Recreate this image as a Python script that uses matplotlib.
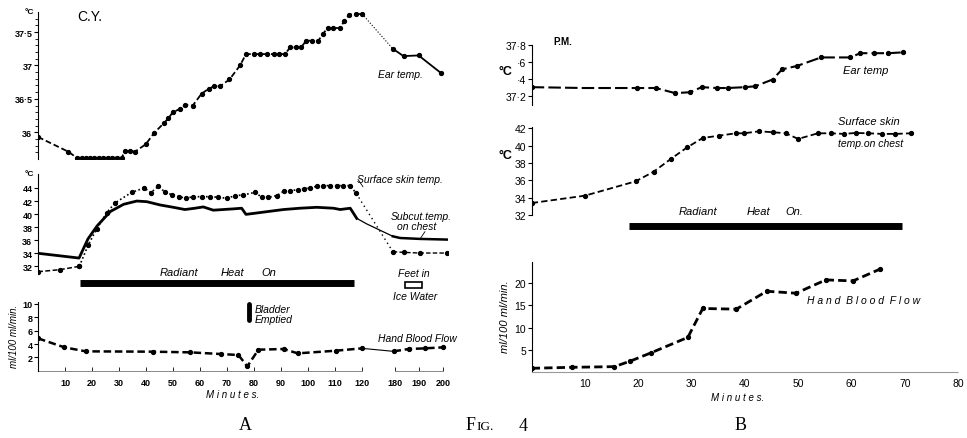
import numpy as np
import matplotlib
matplotlib.use("Agg")
import matplotlib.pyplot as plt
from matplotlib.patches import Rectangle

plt.rcParams['font.family'] = ['Liberation Sans', 'DejaVu Sans']

#---- panel A (C.Y.), minutes
a_ear_t = [0, 11.2, 14.3, 16.2, 17.8, 19.3, 20.9, 22.5, 24.2, 25.8, 27.4, 29.1, 31.0,
           32.2, 34.1, 35.9, 39.9, 43.0, 46.7, 48.3, 49.9, 52.6, 54.6, 57.3, 60.6,
           63.2, 65.2, 67.4, 70.9, 74.8, 77.0, 79.8, 82.2, 84.7, 87.2, 89.4, 91.5,
           93.3, 95.6, 97.4, 99.3, 101.4, 103.8, 105.4, 107.3, 109.4, 111.9, 113.4,
           115.3, 117.8, 120, 176.8, 183.7, 189.9, 199.0]
a_ear_v = [35.93, 35.71, 35.62, 35.62, 35.62, 35.62, 35.62, 35.62, 35.62, 35.62, 35.62,
           35.62, 35.62, 35.72, 35.72, 35.71, 35.82, 35.99, 36.14, 36.21, 36.30, 36.35,
           36.41, 36.40, 36.58, 36.65, 36.69, 36.69, 36.79, 37.0, 37.17, 37.17, 37.17,
           37.17, 37.17, 37.17, 37.17, 37.27, 37.27, 37.27, 37.37, 37.37, 37.37, 37.47,
           37.56, 37.56, 37.56, 37.67, 37.76, 37.77, 37.77, 37.25, 37.14, 37.15, 36.89]

a_skin_t = [0, 8.1, 15.3, 18.6, 21.7, 25.4, 28.5, 34.7, 39.3, 41.8, 44.6, 47.1, 49.5,
            52.3, 54.8, 57.5, 60.6, 63.7, 66.8, 69.9, 73.0, 76.0, 80.4, 82.8, 85.3,
            88.4, 90.9, 93.3, 96.4, 98.3, 100.7, 103.2, 105.7, 108.1, 110.6, 113.1,
            115.6, 117.8, 176.8, 183.7, 190.3, 201.5]
a_skin_v = [31.18, 31.49, 32.0, 35.27, 37.7, 40.2, 41.7, 43.34, 44.0, 43.3, 44.26, 43.34,
            42.98, 42.67, 42.42, 42.67, 42.67, 42.67, 42.57, 42.42, 42.83, 42.93, 43.34,
            42.57, 42.57, 42.83, 43.49, 43.6, 43.74, 43.85, 44.0, 44.26, 44.36, 44.36,
            44.36, 44.36, 44.36, 43.18, 34.25, 34.14, 34.04, 34.04]

a_sub_t = [0, 15.2, 18.5, 21.9, 26.8, 31.7, 36.6, 40.3, 45.2, 50.1, 54.4, 58.1, 61.2,
           64.9, 68.6, 72.3, 75.4, 77.0, 79.7, 84.7, 90.9, 97.0, 103.2, 109.4, 111.9,
           115.6, 118.0, 128.5, 176.8, 182.3, 190.5, 201.5]
a_sub_v = [34.0, 33.27, 36.2, 38.2, 40.4, 41.5, 42.0, 41.9, 41.4, 41.04, 40.7, 40.9, 41.1,
           40.6, 40.7, 40.8, 40.9, 39.96, 40.1, 40.37, 40.7, 40.9, 41.04, 40.9, 40.7,
           40.9, 39.35, 38.5, 36.6, 36.34, 36.2, 36.1]

a_flow_t = [0, 9.75, 17.7, 42.5, 56.3, 67.7, 74.2, 77.5, 81.6, 90.9, 96.2, 110.4, 119.9,
            178.2, 185.8, 192.6, 199.9]
a_flow_v = [4.85, 3.5, 2.9, 2.85, 2.75, 2.5, 2.35, 0.65, 3.15, 3.25, 2.6, 3.0, 3.35,
            2.9, 3.25, 3.35, 3.5]

a_heat = [15.6, 117]
a_bladder_t = 78
a_xticks = [10, 20, 30, 40, 50, 60, 70, 80, 90, 100, 110, 120, 180, 190, 200]

#---- panel B (P.M.)
b_ear_t = [0, 9.8, 19.7, 23.3, 26.9, 29.7, 31.9, 34.7, 36.8, 40.0, 41.9, 45.2, 47.0,
           49.8, 54.3, 59.7, 61.7, 64.2, 66.9, 69.7]
b_ear_v = [37.30, 37.29, 37.29, 37.29, 37.23, 37.24, 37.30, 37.29, 37.29, 37.30, 37.31,
           37.39, 37.51, 37.55, 37.65, 37.65, 37.70, 37.70, 37.70, 37.71]

b_skin_t = [0, 10.0, 19.5, 22.9, 26.1, 29.2, 32.1, 35.2, 38.3, 39.8, 42.7, 45.3, 47.7,
            50.0, 53.7, 56.1, 58.6, 60.8, 63.2, 65.7, 68.2, 71.1]
b_skin_v = [33.38, 34.23, 35.88, 37.0, 38.46, 39.81, 40.88, 41.15, 41.42, 41.42, 41.65,
            41.54, 41.42, 40.77, 41.42, 41.42, 41.35, 41.46, 41.42, 41.35, 41.35, 41.42]

b_flow_t = [0, 7.5, 15.5, 18.4, 22.3, 29.3, 32.1, 38.4, 44.1, 49.6, 55.2, 60.3, 65.3]
b_flow_v = [0.9, 1.12, 1.27, 2.46, 4.33, 7.84, 14.33, 14.18, 18.2, 17.76, 20.75, 20.52, 23.13]

b_heat = [18.3, 69.5]

#---------------------------------------------------------

W, H = 967, 439

def box(x0, y0, x1, y1):
    # pixel box (top-left origin) -> figure fraction
    return [x0 / W, 1 - y1 / H, (x1 - x0) / W, (y1 - y0) / H]

def ftext(x, y, s, **kw):
    kw.setdefault('ha', 'left')
    kw.setdefault('va', 'center')
    fig.text(x / W, 1 - y / H, s, **kw)

# broken time axis of panel A: 120..180 squeezed
def fwd(t):
    t = np.asarray(t, float)
    return np.where(t <= 120, t, np.where(t <= 180, 120 + (t - 120) * 0.2, 132 + (t - 180) * 0.9))

def inv(x):
    x = np.asarray(x, float)
    return np.where(x <= 120, x, np.where(x <= 132, 120 + (x - 120) / 0.2, 180 + (x - 132) / 0.9))

def clean(ax, bottom=False):
    for s in ['top', 'right']:
        ax.spines[s].set_visible(False)
    if not bottom:
        ax.spines['bottom'].set_visible(False)
        ax.set_xticks([])
    ax.patch.set_alpha(0)
    ax.spines['left'].set_linewidth(0.8)
    ax.tick_params(axis='y', length=3, width=0.8, pad=1)

fig = plt.figure(figsize=(9.67, 4.39), dpi=100)

tick_a = dict(fontsize=6.5, fontweight='bold')
lab = dict(fontsize=7.5, style='italic')
dash = (0, (3.2, 1.6))
mk = dict(marker='o', ms=2.8, color='black')

#---- A top: ear temp
ax1 = fig.add_axes(box(38, 13, 448, 160))
ax1.set_xscale('function', functions=(fwd, inv))
ax1.set_xlim(0, 202)
ax1.set_ylim(35.6, 37.8)
n = a_ear_t.index(120)
ax1.plot(a_ear_t[:n + 1], a_ear_v[:n + 1], ls=dash, lw=1.3, **mk)
ax1.plot(a_ear_t[n:n + 2], a_ear_v[n:n + 2], ls=':', lw=0.8, color='black')
ax1.plot(a_ear_t[n + 1:], a_ear_v[n + 1:], ls='-', lw=1.3, **mk)
clean(ax1)
ax1.set_yticks([36, 36.5, 37, 37.5])
ax1.set_yticklabels(['36', '36·5', '37', '37·5'], **tick_a)
ax1.set_yticks(np.arange(35.7, 37.8, 0.1), minor=True)
ax1.tick_params(axis='y', which='minor', length=2, width=0.6)

#---- A middle: skin temps
ax2 = fig.add_axes(box(38, 175, 448, 300))
ax2.set_xscale('function', functions=(fwd, inv))
ax2.set_xlim(0, 202)
ax2.set_ylim(27.0, 46.14)
ax2.spines['left'].set_bounds(31.3, 46.14)
k = a_skin_t.index(117.8)
ax2.plot(a_skin_t[:3], a_skin_v[:3], ls=dash, lw=1.1, **mk)
ax2.plot(a_skin_t[2:k + 1], a_skin_v[2:k + 1], ls=(0, (1, 1.5)), lw=1.2, **mk)
ax2.plot(a_skin_t[k:k + 2], a_skin_v[k:k + 2], ls=(0, (1, 2.5)), lw=1.0, color='black')
ax2.plot(a_skin_t[k + 1:], a_skin_v[k + 1:], ls=dash, lw=1.0, **mk)
j = a_sub_t.index(118.0)
ax2.plot(a_sub_t[:j + 1], a_sub_v[:j + 1], '-', lw=2.0, color='black', solid_joinstyle='round')
ax2.plot(a_sub_t[j:j + 3], a_sub_v[j:j + 3], '-', lw=0.9, color='black')
ax2.plot(a_sub_t[j + 2:], a_sub_v[j + 2:], '-', lw=1.8, color='black')
ax2.plot(a_heat, [29.45, 29.45], '-', lw=5, color='black', solid_capstyle='butt')
ax2.add_patch(Rectangle((184.4, 28.7), 191.5 - 184.4, 0.9, fill=False, lw=1.2, ec='black'))
clean(ax2)
ax2.set_yticks([32, 34, 36, 38, 40, 42, 44])
ax2.set_yticklabels(['32', '34', '36', '38', '40', '42', '44'], **tick_a)
ax2.plot([118.5, 121.5], [45.3, 44.2], '-', lw=0.6, color='black')
ax2.plot([190.5, 192.5], [36.2, 37.3], '-', lw=0.6, color='black')

#---- A bottom: hand blood flow
ax3 = fig.add_axes(box(38, 303.3, 448, 371.7))
ax3.set_xscale('function', functions=(fwd, inv))
ax3.set_xlim(0, 202)
ax3.set_ylim(0, 10.25)
m = a_flow_t.index(119.9)
ax3.plot(a_flow_t[:m + 1], a_flow_v[:m + 1], ls=(0, (3, 1.5)), lw=1.8, **mk)
ax3.plot(a_flow_t[m:m + 2], a_flow_v[m:m + 2], '-', lw=0.8, color='black')
ax3.plot(a_flow_t[m + 1:], a_flow_v[m + 1:], ls=(0, (3, 1.5)), lw=1.8, **mk)
ax3.plot([a_bladder_t, a_bladder_t], [7.6, 10.0], '-', lw=3.5, color='black', solid_capstyle='round')
ax3.plot([0, 120], [0, 0], '-', lw=0.7, color='#888888', clip_on=False)
ax3.plot([180, 200], [0, 0], '-', lw=0.7, color='#888888', clip_on=False)
clean(ax3, bottom=True)
ax3.spines['bottom'].set_visible(False)
ax3.set_xticks(a_xticks)
ax3.set_xticklabels([str(t) for t in a_xticks], **tick_a)
ax3.tick_params(axis='x', direction='in', length=3, width=0.6, pad=5)
ax3.set_yticks([2, 4, 6, 8, 10])
ax3.set_yticklabels(['2', '4', '6', '8', '10'], **tick_a)

#---- B top: ear temp
bx1 = fig.add_axes(box(531.7, 45.7, 958, 106))
bx1.set_xlim(0, 80)
bx1.set_ylim(37.09, 37.80)
bx1.plot(b_ear_t, b_ear_v, ls=(0, (6, 2)), lw=1.5, markevery=[0] + list(range(2, len(b_ear_t))), **mk)
clean(bx1)
bx1.set_yticks([37.2, 37.4, 37.6, 37.8])
bx1.set_yticklabels(['37·2', '·4', '·6', '37·8'], fontsize=7.5)

#---- B middle: skin temp
bx2 = fig.add_axes(box(531.7, 128.4, 958, 237.7))
bx2.set_xlim(0, 80)
bx2.set_ylim(29.5, 42.1)
bx2.spines['left'].set_bounds(32, 42.1)
bx2.plot(b_skin_t, b_skin_v, ls=(0, (3.5, 1.8)), lw=1.3, **mk)
bx2.plot(b_heat, [30.7, 30.7], '-', lw=5, color='black', solid_capstyle='butt')
clean(bx2)
bx2.set_yticks([32, 34, 36, 38, 40, 42])
bx2.set_yticklabels(['32', '34', '36', '38', '40', '42'], fontsize=7.5)

#---- B bottom: hand blood flow
bx3 = fig.add_axes(box(531.7, 263.3, 958, 373.3))
bx3.set_xlim(0, 80)
bx3.set_ylim(0, 24.7)
bx3.plot(b_flow_t, b_flow_v, ls=(0, (3, 1.5)), lw=2.0, **mk)
clean(bx3, bottom=True)
bx3.spines['bottom'].set_color('#999999')
bx3.spines['bottom'].set_linestyle((0, (2, 1)))
bx3.spines['bottom'].set_linewidth(0.8)
bx3.set_xticks([10, 20, 30, 40, 50, 60, 70, 80])
bx3.set_xticklabels([str(t) for t in range(10, 90, 10)], fontsize=7.5)
bx3.tick_params(axis='x', length=0, pad=4)
bx3.set_yticks([5, 10, 15, 20])
bx3.set_yticklabels(['5', '10', '15', '20'], fontsize=7.5)

#---- labels A
ftext(29, 13, '°C', fontsize=6, fontweight='bold', ha='center')
ftext(77, 17, 'C.Y.', fontsize=10)
ftext(378, 75, 'Ear temp.', **lab)
ftext(29, 175, '°C', fontsize=6, fontweight='bold', ha='center')
ftext(357, 180, 'Surface skin temp.', **lab)
ftext(391, 217, 'Subcut.temp.', **lab)
ftext(397, 227, 'on chest', **lab)
ftext(160, 273, 'Radiant', fontsize=8, style='italic')
ftext(221, 273, 'Heat', fontsize=8, style='italic')
ftext(261, 273, 'On', fontsize=8, style='italic')
ftext(398, 274, 'Feet in', **lab)
ftext(393, 297, 'Ice Water', **lab)
ftext(255, 310, 'Bladder', **lab)
ftext(255, 320, 'Emptied', **lab)
ftext(378, 339, 'Hand Blood Flow', **lab)
ftext(233, 395, 'M i n u t e s.', fontsize=7, style='italic', ha='center')
ftext(14, 336, 'ml/100 ml/min.', fontsize=7, style='italic', ha='center', rotation=90)

#---- labels B
ftext(563, 42, 'P.M.', fontsize=7, fontweight='bold', ha='center')
ftext(505, 72, '°C', fontsize=9, fontweight='bold', ha='center')
ftext(505, 156, '°C', fontsize=9, fontweight='bold', ha='center')
ftext(843, 71, 'Ear temp', fontsize=8, style='italic')
ftext(838, 122, 'Surface skin', fontsize=8, style='italic')
ftext(838, 144, 'temp.on chest', fontsize=7.5, style='italic')
ftext(679, 212, 'Radiant', fontsize=8, style='italic')
ftext(747, 212, 'Heat', fontsize=8, style='italic')
ftext(785, 212, 'On.', fontsize=8, style='italic')
ftext(807, 301, 'H a n d  B l o o d  F l o w', fontsize=7.5, style='italic')
ftext(738, 398, 'M i n u t e s.', fontsize=7, style='italic', ha='center')
ftext(505, 317, 'ml/100 ml/min.', fontsize=8, style='italic', ha='center', rotation=90)

#---- figure caption
serif = dict(family='Liberation Serif', va='center')
ftext(245, 426, 'A', fontsize=13, ha='center', **serif)
ftext(466, 426, 'F', fontsize=13, **serif)
ftext(476, 427.5, 'IG.', fontsize=9.5, **serif)
ftext(523, 427, '4', fontsize=13, ha='center', **serif)
ftext(741, 426, 'B', fontsize=13, ha='center', **serif)

fig.savefig('out.png', dpi=100)
